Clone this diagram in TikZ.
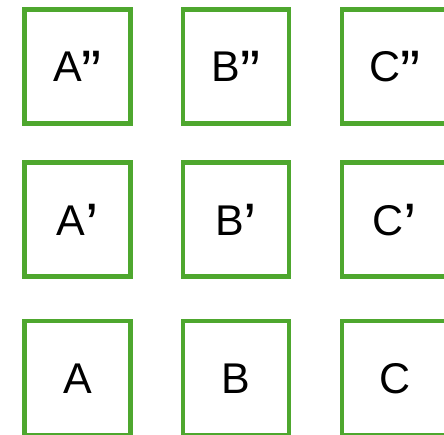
\documentclass[tikz,border=0pt]{standalone}
\usepackage{fontspec}
\setmainfont{Liberation Sans}
\definecolor{boxgreen}{HTML}{4EA72E}
\newcommand{\qmk}[1]{\raisebox{-10.5pt}{\fontsize{60}{60}\selectfont #1}}
\begin{document}
\begin{tikzpicture}[x=1pt,y=-1pt,
  cell/.style={draw=boxgreen, line width=4.2pt, fill=white, rectangle,
    minimum width=106pt, minimum height=114pt, inner sep=0pt,
    text height=31pt, text depth=0pt, font=\fontsize{43}{50}\selectfont}]
\clip (0,0) rectangle (444,435);
\useasboundingbox (0,0) rectangle (444,435);
\node[cell] (a2) at (77.5,66.5) {A\qmk{”}};
\node[cell] (b2) at (236.3,66.5) {B\qmk{”}};
\node[cell] (c2) at (395,66.5) {C\qmk{”}};
\node[cell] (a1) at (77.5,219.6) {A\qmk{’}};
\node[cell] (b1) at (236.3,219.6) {B\qmk{’}};
\node[cell] (c1) at (395,219.6) {C\qmk{’}};
\node[cell] (a0) at (77.5,378) {A};
\node[cell] (b0) at (236.3,378) {B};
\node[cell] (c0) at (395,378) {C};
\end{tikzpicture}
\end{document}
